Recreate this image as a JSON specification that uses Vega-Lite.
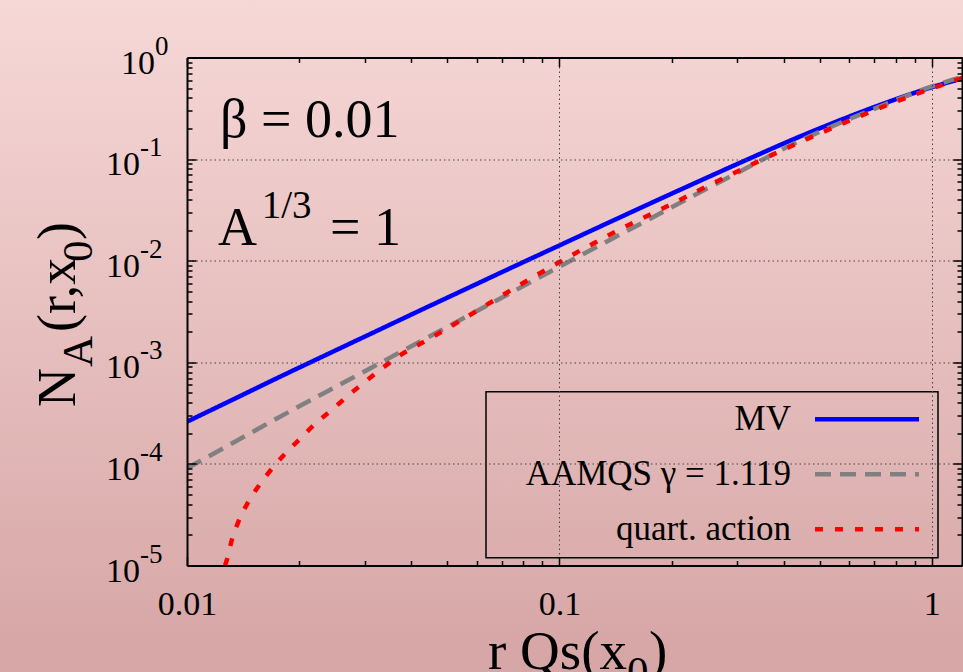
{
  "$schema": "https://vega.github.io/schema/vega-lite/v6.json",
  "width": 775,
  "height": 508,
  "autosize": {"type": "none"},
  "padding": {"left": 187, "top": 57.5, "right": 1, "bottom": 106.5},
  "background": "#e3bcbc",
  "datasets": {
    "curves": [
      {"s": "MV", "x": 0.01, "y": 0.0002602},
      {"s": "MV", "x": 0.01334, "y": 0.0004332},
      {"s": "MV", "x": 0.01778, "y": 0.0007215},
      {"s": "MV", "x": 0.02371, "y": 0.00119},
      {"s": "MV", "x": 0.03162, "y": 0.00196},
      {"s": "MV", "x": 0.04217, "y": 0.003228},
      {"s": "MV", "x": 0.05623, "y": 0.005289},
      {"s": "MV", "x": 0.07499, "y": 0.00867},
      {"s": "MV", "x": 0.1, "y": 0.01414},
      {"s": "MV", "x": 0.1334, "y": 0.02307},
      {"s": "MV", "x": 0.1778, "y": 0.03749},
      {"s": "MV", "x": 0.2371, "y": 0.0606},
      {"s": "MV", "x": 0.3162, "y": 0.09732},
      {"s": "MV", "x": 0.4217, "y": 0.1549},
      {"s": "MV", "x": 0.5623, "y": 0.2388},
      {"s": "MV", "x": 0.7499, "y": 0.3565},
      {"s": "MV", "x": 1.0, "y": 0.5101},
      {"s": "MV", "x": 1.205, "y": 0.6213},
      {"s": "AAMQS γ = 1.119", "x": 0.01, "y": 0.0000905},
      {"s": "AAMQS γ = 1.119", "x": 0.01334, "y": 0.0001624},
      {"s": "AAMQS γ = 1.119", "x": 0.01778, "y": 0.0002914},
      {"s": "AAMQS γ = 1.119", "x": 0.02371, "y": 0.0005136},
      {"s": "AAMQS γ = 1.119", "x": 0.03162, "y": 0.000905},
      {"s": "AAMQS γ = 1.119", "x": 0.04217, "y": 0.001595},
      {"s": "AAMQS γ = 1.119", "x": 0.05623, "y": 0.002811},
      {"s": "AAMQS γ = 1.119", "x": 0.07499, "y": 0.004953},
      {"s": "AAMQS γ = 1.119", "x": 0.1, "y": 0.008747},
      {"s": "AAMQS γ = 1.119", "x": 0.1334, "y": 0.01528},
      {"s": "AAMQS γ = 1.119", "x": 0.1778, "y": 0.02668},
      {"s": "AAMQS γ = 1.119", "x": 0.2371, "y": 0.0466},
      {"s": "AAMQS γ = 1.119", "x": 0.3162, "y": 0.0808},
      {"s": "AAMQS γ = 1.119", "x": 0.4217, "y": 0.1392},
      {"s": "AAMQS γ = 1.119", "x": 0.5623, "y": 0.2241},
      {"s": "AAMQS γ = 1.119", "x": 0.7499, "y": 0.3454},
      {"s": "AAMQS γ = 1.119", "x": 1.0, "y": 0.5195},
      {"s": "AAMQS γ = 1.119", "x": 1.205, "y": 0.6428},
      {"s": "quart. action", "x": 0.01265, "y": 0.00001},
      {"s": "quart. action", "x": 0.01279, "y": 0.0000113},
      {"s": "quart. action", "x": 0.01319, "y": 0.0000178},
      {"s": "quart. action", "x": 0.01374, "y": 0.000027},
      {"s": "quart. action", "x": 0.01462, "y": 0.0000425},
      {"s": "quart. action", "x": 0.01564, "y": 0.000062},
      {"s": "quart. action", "x": 0.01699, "y": 0.0000918},
      {"s": "quart. action", "x": 0.01845, "y": 0.000129},
      {"s": "quart. action", "x": 0.0202, "y": 0.000179},
      {"s": "quart. action", "x": 0.02217, "y": 0.000251},
      {"s": "quart. action", "x": 0.02448, "y": 0.00034},
      {"s": "quart. action", "x": 0.02687, "y": 0.000459},
      {"s": "quart. action", "x": 0.02974, "y": 0.000621},
      {"s": "quart. action", "x": 0.03296, "y": 0.00084},
      {"s": "quart. action", "x": 0.03653, "y": 0.00111},
      {"s": "quart. action", "x": 0.04585, "y": 0.00179},
      {"s": "quart. action", "x": 0.05751, "y": 0.00292},
      {"s": "quart. action", "x": 0.07218, "y": 0.00484},
      {"s": "quart. action", "x": 0.08954, "y": 0.00769},
      {"s": "quart. action", "x": 0.1004, "y": 0.00977},
      {"s": "quart. action", "x": 0.1259, "y": 0.0154},
      {"s": "quart. action", "x": 0.158, "y": 0.0237},
      {"s": "quart. action", "x": 0.2003, "y": 0.0361},
      {"s": "quart. action", "x": 0.2529, "y": 0.0556},
      {"s": "quart. action", "x": 0.3186, "y": 0.0838},
      {"s": "quart. action", "x": 0.4036, "y": 0.1259},
      {"s": "quart. action", "x": 0.5096, "y": 0.1845},
      {"s": "quart. action", "x": 0.6445, "y": 0.2667},
      {"s": "quart. action", "x": 0.8244, "y": 0.3828},
      {"s": "quart. action", "x": 1.052, "y": 0.53},
      {"s": "quart. action", "x": 1.205, "y": 0.628}
    ],
    "yticks": [
      {"v": 0.1, "e": "-1"},
      {"v": 0.01, "e": "-2"},
      {"v": 0.001, "e": "-3"},
      {"v": 0.0001, "e": "-4"},
      {"v": 0.00001, "e": "-5"}
    ],
    "one": [{}]
  },
  "config": {
    "view": {"stroke": null},
    "text": {"font": "Liberation Serif", "color": "#000000"},
    "axis": {
      "domainColor": "#000000",
      "domainWidth": 2,
      "tickColor": "#000000",
      "tickWidth": 1.5,
      "gridColor": "#444444",
      "gridDash": [1.5, 3],
      "gridWidth": 1,
      "labelFont": "Liberation Serif",
      "labelColor": "#000000"
    },
    "legend": {"strokeWidth": 1.5}
  },
  "resolve": {"axis": {"x": "independent", "y": "independent"}},
  "layer": [
    {
      "data": {"values": [{"x1": 0.001, "x2": 10, "y1": 1e-8, "y2": 1000}]},
      "mark": {
        "type": "rect",
        "clip": false,
        "strokeWidth": 0,
        "fill": {
          "gradient": "linear",
          "x1": 0, "y1": 0, "x2": 0, "y2": 1,
          "stops": [
            {"offset": 0.2213, "color": "#f6d8d7"},
            {"offset": 0.8226, "color": "#d6a5a5"}
          ]
        }
      },
      "encoding": {
        "x": {"field": "x1", "type": "quantitative", "scale": {"type": "log", "domain": [0.01, 1.205], "nice": false}, "axis": null},
        "x2": {"field": "x2"},
        "y": {"field": "y1", "type": "quantitative", "scale": {"type": "log", "domain": [0.00001, 1], "nice": false}, "axis": null},
        "y2": {"field": "y2"}
      }
    },
    {
      "data": {"name": "curves"},
      "mark": {"type": "line", "clip": true, "strokeWidth": 4.5, "interpolate": "monotone"},
      "encoding": {
        "x": {
          "field": "x", "type": "quantitative",
          "scale": {"type": "log", "domain": [0.01, 1.205], "nice": false},
          "axis": {
            "orient": "bottom", "title": null, "zindex": 1,
            "values": [0.01,0.02,0.03,0.04,0.05,0.06,0.07,0.08,0.09,0.1,0.2,0.3,0.4,0.5,0.6,0.7,0.8,0.9,1],
            "tickSize": {"condition": {"test": "abs(log(datum.value)/LN10 - round(log(datum.value)/LN10)) < 0.001", "value": -9}, "value": -5},
            "labelExpr": "datum.value == 0.01 ? '0.01' : datum.value == 0.1 ? '0.1' : datum.value == 1 ? '1' : ''",
            "labelFontSize": 34,
            "labelBaseline": "alphabetic",
            "labelPadding": 57.5,
            "labelFlush": false,
            "labelOverlap": false,
            "grid": true,
            "gridOpacity": {"condition": {"test": "abs(log(datum.value)/LN10 - round(log(datum.value)/LN10)) < 0.001", "value": 1}, "value": 0}
          }
        },
        "y": {
          "field": "y", "type": "quantitative",
          "scale": {"type": "log", "domain": [0.00001, 1], "nice": false},
          "axis": {
            "orient": "left", "title": null, "zindex": 1,
            "values": [0.00001,0.00002,0.00003,0.00004,0.00005,0.00006,0.00007,0.00008,0.00009,0.0001,0.0002,0.0003,0.0004,0.0005,0.0006,0.0007,0.0008,0.0009,0.001,0.002,0.003,0.004,0.005,0.006,0.007,0.008,0.009,0.01,0.02,0.03,0.04,0.05,0.06,0.07,0.08,0.09,0.1,0.2,0.3,0.4,0.5,0.6,0.7,0.8,0.9,1],
            "tickSize": {"condition": {"test": "abs(log(datum.value)/LN10 - round(log(datum.value)/LN10)) < 0.001", "value": -9}, "value": -5},
            "labels": false,
            "grid": true,
            "gridOpacity": {"condition": {"test": "abs(log(datum.value)/LN10 - round(log(datum.value)/LN10)) < 0.001", "value": 1}, "value": 0}
          }
        },
        "color": {
          "field": "s", "type": "nominal",
          "scale": {"domain": ["MV", "AAMQS γ = 1.119", "quart. action"], "range": ["#0000ff", "#808080", "#ff0000"]},
          "legend": {
            "title": null, "orient": "none", "legendX": 299, "legendY": 334.2,
            "labelFont": "Liberation Serif", "labelFontSize": 35, "labelColor": "#000000",
            "labelAlign": "right", "labelBaseline": "middle", "labelOffset": -93.5, "labelLimit": 600,
            "symbolOffset": 353.5, "symbolSize": 676, "symbolStrokeWidth": 4.5, "symbolType": "M-4,0H4",
            "rowPadding": 19, "padding": 10,
            "strokeColor": "#000000", "fillColor": null
          }
        },
        "strokeDash": {
          "field": "s", "type": "nominal",
          "scale": {"domain": ["MV", "AAMQS γ = 1.119", "quart. action"], "range": [[1, 0], [16, 9], [8, 12]]},
          "legend": {
            "title": null, "orient": "none", "legendX": 299, "legendY": 334.2,
            "labelFont": "Liberation Serif", "labelFontSize": 35, "labelColor": "#000000",
            "labelAlign": "right", "labelBaseline": "middle", "labelOffset": -93.5, "labelLimit": 600,
            "symbolOffset": 353.5, "symbolSize": 676, "symbolStrokeWidth": 4.5, "symbolType": "M-4,0H4",
            "rowPadding": 19, "padding": 10,
            "strokeColor": "#000000", "fillColor": null
          }
        }
      }
    },
    {
      "data": {"name": "yticks"},
      "mark": {"type": "text", "align": "right", "baseline": "alphabetic", "dx": -47, "dy": 16, "fontSize": 34},
      "encoding": {
        "x": {
          "datum": 0.01, "type": "quantitative",
          "scale": {"type": "log", "domain": [0.01, 1.205], "nice": false},
          "axis": {
            "orient": "top", "title": null, "labels": false, "grid": false, "zindex": 1,
            "values": [0.01,0.02,0.03,0.04,0.05,0.06,0.07,0.08,0.09,0.1,0.2,0.3,0.4,0.5,0.6,0.7,0.8,0.9,1],
            "tickSize": {"condition": {"test": "abs(log(datum.value)/LN10 - round(log(datum.value)/LN10)) < 0.001", "value": -9}, "value": -5}
          }
        },
        "y": {
          "field": "v", "type": "quantitative",
          "scale": {"type": "log", "domain": [0.00001, 1], "nice": false},
          "axis": {
            "orient": "right", "title": null, "labels": false, "grid": false, "zindex": 1,
            "values": [0.00001,0.00002,0.00003,0.00004,0.00005,0.00006,0.00007,0.00008,0.00009,0.0001,0.0002,0.0003,0.0004,0.0005,0.0006,0.0007,0.0008,0.0009,0.001,0.002,0.003,0.004,0.005,0.006,0.007,0.008,0.009,0.01,0.02,0.03,0.04,0.05,0.06,0.07,0.08,0.09,0.1,0.2,0.3,0.4,0.5,0.6,0.7,0.8,0.9,1],
            "tickSize": {"condition": {"test": "abs(log(datum.value)/LN10 - round(log(datum.value)/LN10)) < 0.001", "value": -9}, "value": -5}
          }
        },
        "text": {"value": "10"}
      }
    },
    {
      "data": {"name": "yticks"},
      "mark": {"type": "text", "align": "left", "baseline": "alphabetic", "dx": -47, "dy": -3, "fontSize": 27},
      "encoding": {
        "x": {"datum": 0.01, "type": "quantitative", "axis": null},
        "y": {"field": "v", "type": "quantitative", "axis": null},
        "text": {"field": "e"}
      }
    },
    {
      "data": {"name": "one"},
      "mark": {"type": "text", "align": "right", "baseline": "alphabetic", "dx": -32, "dy": 16, "fontSize": 34},
      "encoding": {
        "x": {"datum": 0.01, "type": "quantitative", "axis": null},
        "y": {"datum": 1, "type": "quantitative", "axis": null},
        "text": {"value": "10"}
      }
    },
    {
      "data": {"name": "one"},
      "mark": {"type": "text", "align": "left", "baseline": "alphabetic", "dx": -32, "dy": -3, "fontSize": 27},
      "encoding": {
        "x": {"datum": 0.01, "type": "quantitative", "axis": null},
        "y": {"datum": 1, "type": "quantitative", "axis": null},
        "text": {"value": "0"}
      }
    },
    {
      "data": {"name": "one"},
      "mark": {"type": "text", "align": "left", "baseline": "alphabetic", "fontSize": 54},
      "encoding": {
        "x": {"datum": 0.012265, "type": "quantitative", "axis": null},
        "y": {"datum": 0.165, "type": "quantitative", "axis": null},
        "text": {"value": "β = 0.01"}
      }
    },
    {
      "data": {"name": "one"},
      "mark": {"type": "text", "align": "left", "baseline": "alphabetic", "fontSize": 54},
      "encoding": {
        "x": {"datum": 0.01211, "type": "quantitative", "axis": null},
        "y": {"datum": 0.014273, "type": "quantitative", "axis": null},
        "text": {"value": "A"}
      }
    },
    {
      "data": {"name": "one"},
      "mark": {"type": "text", "align": "left", "baseline": "alphabetic", "fontSize": 39},
      "encoding": {
        "x": {"datum": 0.01587, "type": "quantitative", "axis": null},
        "y": {"datum": 0.026317, "type": "quantitative", "axis": null},
        "text": {"value": "1/3"}
      }
    },
    {
      "data": {"name": "one"},
      "mark": {"type": "text", "align": "left", "baseline": "alphabetic", "fontSize": 54},
      "encoding": {
        "x": {"datum": 0.02421, "type": "quantitative", "axis": null},
        "y": {"datum": 0.014273, "type": "quantitative", "axis": null},
        "text": {"value": "= 1"}
      }
    },
    {
      "data": {"name": "one"},
      "mark": {"type": "text", "align": "left", "baseline": "alphabetic", "fontSize": 54, "angle": 270},
      "encoding": {
        "x": {"datum": 0.005003, "type": "quantitative", "axis": null},
        "y": {"datum": 0.000363, "type": "quantitative", "axis": null},
        "text": {"value": "N"}
      }
    },
    {
      "data": {"name": "one"},
      "mark": {"type": "text", "align": "left", "baseline": "alphabetic", "fontSize": 43, "angle": 270},
      "encoding": {
        "x": {"datum": 0.005557, "type": "quantitative", "axis": null},
        "y": {"datum": 0.000899, "type": "quantitative", "axis": null},
        "text": {"value": "A"}
      }
    },
    {
      "data": {"name": "one"},
      "mark": {"type": "text", "align": "left", "baseline": "alphabetic", "fontSize": 54, "angle": 270},
      "encoding": {
        "x": {"datum": 0.005003, "type": "quantitative", "axis": null},
        "y": {"datum": 0.001987, "type": "quantitative", "axis": null},
        "text": {"value": "(r,x"}
      }
    },
    {
      "data": {"name": "one"},
      "mark": {"type": "text", "align": "left", "baseline": "alphabetic", "fontSize": 43, "angle": 270},
      "encoding": {
        "x": {"datum": 0.005557, "type": "quantitative", "axis": null},
        "y": {"datum": 0.00971, "type": "quantitative", "axis": null},
        "text": {"value": "0"}
      }
    },
    {
      "data": {"name": "one"},
      "mark": {"type": "text", "align": "left", "baseline": "alphabetic", "fontSize": 54, "angle": 270},
      "encoding": {
        "x": {"datum": 0.005003, "type": "quantitative", "axis": null},
        "y": {"datum": 0.01598, "type": "quantitative", "axis": null},
        "text": {"value": ")"}
      }
    },
    {
      "data": {"name": "one"},
      "mark": {"type": "text", "align": "right", "baseline": "alphabetic", "fontSize": 55},
      "encoding": {
        "x": {"datum": 0.1519, "type": "quantitative", "axis": null},
        "y": {"datum": 9.58e-7, "type": "quantitative", "axis": null},
        "text": {"value": "r Qs(x"}
      }
    },
    {
      "data": {"name": "one"},
      "mark": {"type": "text", "align": "left", "baseline": "alphabetic", "fontSize": 43},
      "encoding": {
        "x": {"datum": 0.1519, "type": "quantitative", "axis": null},
        "y": {"datum": 6.52e-7, "type": "quantitative", "axis": null},
        "text": {"value": "0"}
      }
    },
    {
      "data": {"name": "one"},
      "mark": {"type": "text", "align": "left", "baseline": "alphabetic", "fontSize": 55},
      "encoding": {
        "x": {"datum": 0.174, "type": "quantitative", "axis": null},
        "y": {"datum": 9.58e-7, "type": "quantitative", "axis": null},
        "text": {"value": ")"}
      }
    }
  ]
}
